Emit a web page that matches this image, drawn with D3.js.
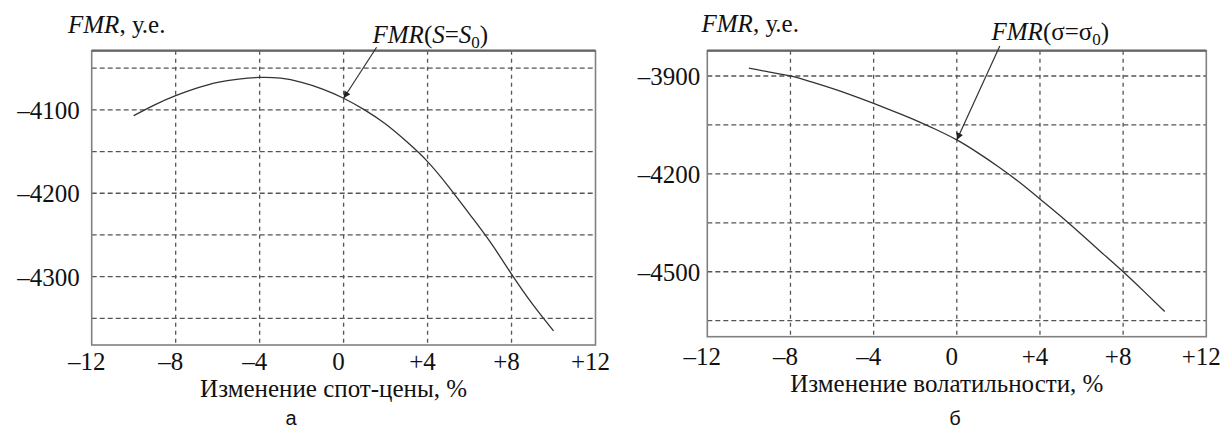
<!DOCTYPE html>
<html>
<head>
<meta charset="utf-8">
<script src="https://cdn.jsdelivr.net/npm/d3@7"></script>
<style>
  body { margin: 0; background: #fff; }
</style>
</head>
<body>
<svg id="chart" width="1230" height="430"></svg>
<script>
// x ticks shared by both panels
const xTicks = [-12, -8, -4, 0, 4, 8, 12];
const xTickLabels = ["–12", "–8", "–4", "0", "+4", "+8", "+12"];

// panel a: spot price change
const spotChange = [-10, -9, -8, -7, -6, -5, -4, -3, -2, -1, 0, 1, 2, 3, 4, 5, 6, 7, 8, 9, 10];
const fmrSpot = [-4107, -4094, -4083, -4074, -4067, -4063, -4061, -4062, -4067, -4075, -4086,
                 -4100, -4117, -4138, -4162, -4192, -4225, -4259, -4297, -4333, -4365];
const spotYGrid = [-4050, -4100, -4150, -4200, -4250, -4300, -4350];
const spotYTicks = [-4100, -4200, -4300];
const spotYLabels = ["–4100", "–4200", "–4300"];

// panel б: volatility change
const volChange = [-10, -9, -8, -7, -6, -5, -4, -3, -2, -1, 0, 1, 2, 3, 4, 5, 6, 7, 8, 9, 10];
const fmrVol = [-3876, -3888, -3900, -3918, -3938, -3960, -3984, -4009, -4035, -4064, -4096,
                -4135, -4178, -4225, -4277, -4330, -4386, -4443, -4500, -4560, -4622];
const volYGrid = [-3900, -4050, -4200, -4350, -4500, -4650];
const volYTicks = [-3900, -4200, -4500];
const volYLabels = ["–3900", "–4200", "–4500"];

const serif = "'Liberation Serif', 'Times New Roman', serif";
const sans = "'Liberation Sans', Arial, sans-serif";

const svg = d3.select("#chart").attr("font-family", serif);

svg.append("defs").append("marker")
   .attr("id", "arrow")
   .attr("viewBox", "0 0 10 10")
   .attr("refX", 10).attr("refY", 5)
   .attr("markerWidth", 9).attr("markerHeight", 7)
   .attr("markerUnits", "userSpaceOnUse")
   .attr("orient", "auto")
   .append("path")
   .attr("d", "M0,0 L10,5 L0,10 z")
   .attr("fill", "#222");

function txt(sel) {
   return sel.style("font-family", serif).style("font-size", "25px").attr("fill", "#111");
}

function panel(p) {
   const x = d3.scaleLinear().domain([-12, 12]).range([p.left, p.right]);
   const y = d3.scaleLinear().domain(p.yDomain).range([p.bottom, p.top]);
   const g = svg.append("g");

   // horizontal grid
   g.selectAll(".hg").data(p.yGrid).enter().append("line")
      .attr("x1", p.left).attr("x2", p.right)
      .attr("y1", (d) => y(d)).attr("y2", (d) => y(d))
      .attr("stroke", "#555").attr("stroke-width", 1.3)
      .attr("stroke-dasharray", "5,3");

   // vertical grid
   g.selectAll(".vg").data(xTicks.slice(1, -1)).enter().append("line")
      .attr("x1", (d) => x(d)).attr("x2", (d) => x(d))
      .attr("y1", p.top).attr("y2", p.bottom)
      .attr("stroke", "#555").attr("stroke-width", 1.3)
      .attr("stroke-dasharray", "4,4");

   // frame
   g.append("rect")
      .attr("x", p.left).attr("y", p.top)
      .attr("width", p.right - p.left).attr("height", p.bottom - p.top)
      .attr("fill", "none").attr("stroke", "#808080").attr("stroke-width", 1.6);
   g.append("line")
      .attr("x1", p.left).attr("x2", p.right)
      .attr("y1", p.top).attr("y2", p.top)
      .attr("stroke", "#666").attr("stroke-width", 2.2);

   // curve
   const line = d3.line()
      .x((d, i) => x(p.xs[i]))
      .y((d) => y(d))
      .curve(d3.curveNatural);
   g.append("path")
      .datum(p.ys)
      .attr("d", line)
      .attr("fill", "none")
      .attr("stroke", "#333")
      .attr("stroke-width", 1.3);

   // x tick labels
   txt(g.selectAll(".xt").data(xTicks).enter().append("text"))
      .attr("x", (d) => x(d) - 5)
      .attr("y", p.bottom + p.xLabelGap)
      .attr("text-anchor", "middle")
      .text((d, i) => xTickLabels[i]);

   // y tick labels
   txt(g.selectAll(".yt").data(p.yTicks).enter().append("text"))
      .attr("x", p.left - p.yLabelGap)
      .attr("y", (d) => y(d) + 9)
      .attr("text-anchor", "end")
      .text((d, i) => p.yLabels[i]);

   // y title
   const yt = txt(g.append("text"))
      .attr("x", p.yTitleX).attr("y", p.yTitleY);
   yt.append("tspan").style("font-style", "italic").text("FMR");
   yt.append("tspan").text(", у.е.");

   // x title
   txt(g.append("text"))
      .attr("x", (p.left + p.right) / 2 - 10)
      .attr("y", p.xTitleY)
      .attr("text-anchor", "middle")
      .text(p.xTitle);

   // panel letter
   g.append("text")
      .attr("x", p.letterX).attr("y", 425)
      .attr("text-anchor", "middle")
      .attr("fill", "#111")
      .style("font-family", sans)
      .style("font-size", "20px")
      .text(p.letter);

   // annotation with arrow to the curve at x = 0
   const tipX = x(0), tipY = y(p.ys[p.xs.indexOf(0)]);
   g.append("line")
      .attr("x1", tipX + p.arrowDx).attr("y1", tipY + p.arrowDy)
      .attr("x2", tipX).attr("y2", tipY)
      .attr("stroke", "#333").attr("stroke-width", 1.2)
      .attr("marker-end", "url(#arrow)");

   const ann = txt(g.append("text"))
      .attr("x", p.annX).attr("y", p.annY);
   ann.append("tspan").style("font-style", "italic").text("FMR");
   ann.append("tspan").text("(");
   ann.append("tspan").style("font-style", p.symItalic ? "italic" : "normal").text(p.sym);
   ann.append("tspan").text("=");
   ann.append("tspan").style("font-style", p.symItalic ? "italic" : "normal").text(p.sym);
   ann.append("tspan").attr("dy", 5).style("font-size", "17px").text("0");
   ann.append("tspan").attr("dy", -5).text(")");
}

panel({
   xs: spotChange, ys: fmrSpot,
   left: 91.7, right: 595.5, top: 50.7, bottom: 345,
   yDomain: [-4382, -4029],
   yGrid: spotYGrid, yTicks: spotYTicks, yLabels: spotYLabels,
   xLabelGap: 25, yLabelGap: 12,
   yTitleX: 68, yTitleY: 33,
   xTitle: "Изменение спот-цены, %", xTitleY: 397,
   letter: "а", letterX: 291,
   arrowDx: 33, arrowDy: -51,
   annX: 372.5, annY: 43,
   sym: "S", symItalic: true
});

panel({
   xs: volChange, ys: fmrVol,
   left: 707.3, right: 1206.3, top: 50.7, bottom: 336.7,
   yDomain: [-4699, -3822.5],
   yGrid: volYGrid, yTicks: volYTicks, yLabels: volYLabels,
   xLabelGap: 28, yLabelGap: 7,
   yTitleX: 701.5, yTitleY: 32,
   xTitle: "Изменение волатильности, %", xTitleY: 392,
   letter: "б", letterX: 955,
   arrowDx: 43, arrowDy: -94,
   annX: 991.5, annY: 40,
   sym: "σ", symItalic: false
});
</script>
</body>
</html>
